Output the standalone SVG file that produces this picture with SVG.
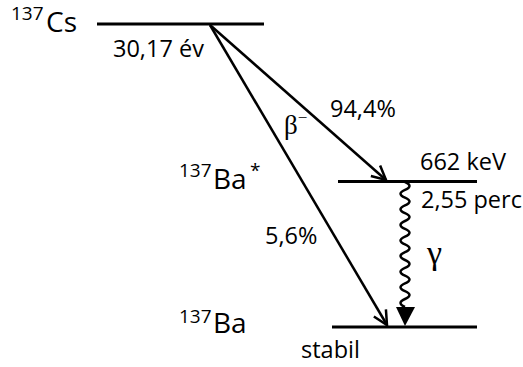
<svg xmlns="http://www.w3.org/2000/svg" width="523" height="367" viewBox="0 0 523 367">
<style>
.lvl{stroke:#000;stroke-width:3;fill:none}
.arr{stroke:#000;stroke-width:2.5;fill:none;marker-end:url(#open)}
.lab{font-family:"Open Sans","Liberation Sans",sans-serif;font-size:23.5px;fill:#000}
.iso{font-family:"Open Sans","Liberation Sans",sans-serif;font-size:28px;fill:#000}
.sup{font-family:"Open Sans","Liberation Sans",sans-serif;font-size:19px;fill:#000}
.grk{font-family:"Liberation Serif","DejaVu Serif",serif;fill:#000}
</style>
<defs>
<marker id="open" markerUnits="userSpaceOnUse" markerWidth="30" markerHeight="30" viewBox="-20 -15 30 30" refX="0" refY="0" orient="auto">
<path d="M-14,-7 L0,0 L-14,7" stroke="#000" stroke-width="2.5" fill="none"/>
</marker>
</defs>
<g id="cs137">
<line class="lvl" x1="97" y1="24" x2="264" y2="24"/>
<text class="sup" x="11" y="20">137</text>
<text class="iso" x="46" y="32">Cs</text>
<text class="lab" x="113" y="57">30,17 év</text>
</g>
<g id="ba137m">
<line class="lvl" x1="338" y1="181.5" x2="477" y2="181.5"/>
<text class="sup" x="179" y="177">137</text>
<text class="iso" x="213" y="188.5">Ba</text>
<text class="sup" x="250" y="177">*</text>
<text class="lab" x="420" y="170">662 keV</text>
<text class="lab" x="421" y="208">2,55 perc</text>
</g>
<g id="ba137">
<line class="lvl" x1="332" y1="327" x2="477" y2="327"/>
<text class="sup" x="179" y="323">137</text>
<text class="iso" x="213" y="333">Ba</text>
<text class="lab" x="301" y="358">stabil</text>
</g>
<g id="connectors">
<line class="arr" x1="210" y1="25" x2="386" y2="180"/>
<line class="arr" x1="210" y1="25" x2="387" y2="325"/>
<path d="M405,182 q9,3.9 0,7.8 t0,7.8 t0,7.8 t0,7.8 t0,7.8 t0,7.8 t0,7.8 t0,7.8 t0,7.8 t0,7.8 t0,7.8 t0,7.8 t0,7.8 t0,7.8 t0,7.8 t0,7.8" stroke="#000" stroke-width="2.5" fill="none"/>
<polygon points="396,307 415,307 405,326" fill="#000"/>
<text class="lab" x="330" y="116.5">94,4%</text>
<text class="lab" x="265" y="244">5,6%</text>
<text class="grk" x="284" y="134" font-size="27">β<tspan font-size="17" dy="-11">−</tspan></text>
<text class="grk" x="427" y="264" font-size="34">γ</text>
</g>
</svg>
